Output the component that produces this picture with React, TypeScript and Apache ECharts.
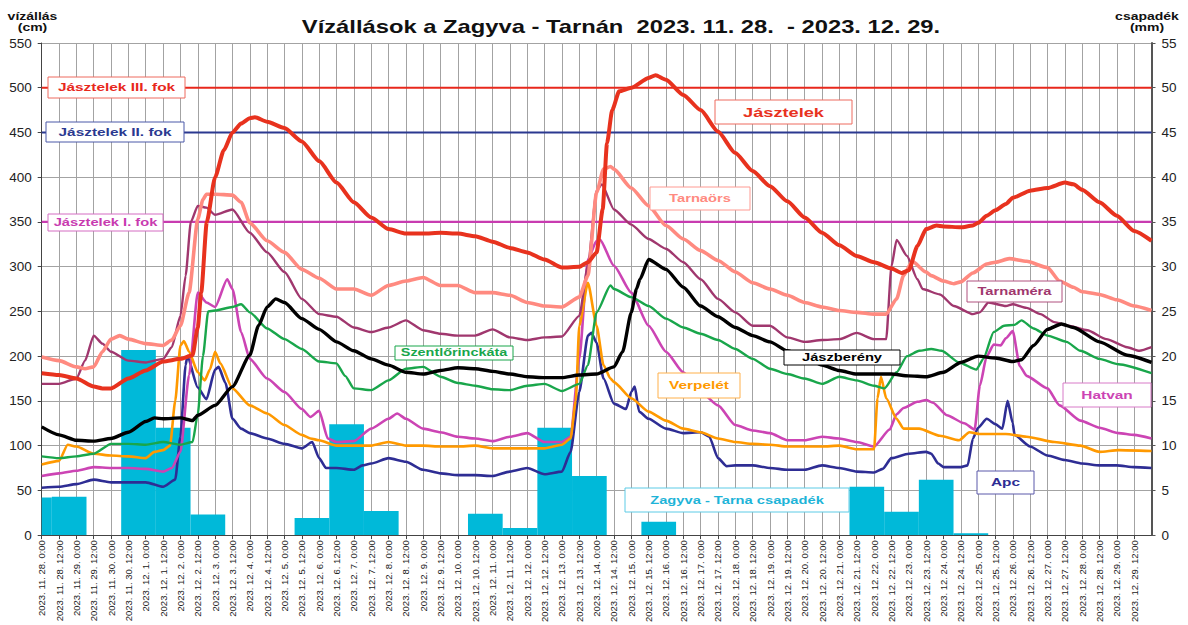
import React, { useEffect, useRef } from "react";
import * as echarts from "echarts";

// ---- tick labels (every 12 hours) ----
const DATES = [
  "2023. 11. 28.", "2023. 11. 29.", "2023. 11. 30.",
  "2023. 12. 1.", "2023. 12. 2.", "2023. 12. 3.", "2023. 12. 4.", "2023. 12. 5.",
  "2023. 12. 6.", "2023. 12. 7.", "2023. 12. 8.", "2023. 12. 9.", "2023. 12. 10.",
  "2023. 12. 11.", "2023. 12. 12.", "2023. 12. 13.", "2023. 12. 14.", "2023. 12. 15.",
  "2023. 12. 16.", "2023. 12. 17.", "2023. 12. 18.", "2023. 12. 19.", "2023. 12. 20.",
  "2023. 12. 21.", "2023. 12. 22.", "2023. 12. 23.", "2023. 12. 24.", "2023. 12. 25.",
  "2023. 12. 26.", "2023. 12. 27.", "2023. 12. 28.", "2023. 12. 29.",
];
const HOURS = ["0:00", "12:00"];

// ---- thresholds (cm) ----
const THRESHOLDS = [500, 450, 350];

// ---- daily precipitation (mm), measured 7:00 -> 7:00, first day = 11.27. ----
const PRECIP_HOUR = 7;
const precip = [
  4.2, 4.3, 0, 20.7, 12.0, 2.3, 0, 0, 1.9, 12.4, 2.7, 0, 0, 2.4, 0.8, 12.0, 6.6,
  0, 1.5, 0, 0, 0, 0, 0, 5.4, 2.6, 6.2, 0.2, 0, 0, 0, 0, 0,
];

// ---- water levels: [time in half-days since 2023.11.28 0:00, cm] ----
const jasztelek = [
  [0, 181], [1, 179], [2, 175], [3, 166], [3.5, 164], [4, 164], [5, 175], [6, 184], [7, 194], [8, 197],
  [8.7, 201], [9, 232], [9.2, 271], [9.52, 350], [10, 400], [10.5, 430], [11, 450], [11.5, 460], [12, 466],
  [12.3, 467], [13, 462], [14, 455], [15, 440], [16, 418], [17, 394], [18, 372], [19, 355], [20, 342],
  [21, 337], [22, 337], [23, 338], [24, 337], [25, 334], [26, 328], [27, 321], [28, 316], [29, 308],
  [30, 299], [31, 300], [31.5, 305], [32, 316], [32.35, 364], [32.6, 438], [32.9, 475], [33.3, 496],
  [34, 500], [35, 511], [35.4, 514], [36, 509], [37, 492], [38, 475], [39, 451], [40, 427], [41, 407],
  [42, 390], [43, 373], [44, 355], [45, 338], [46, 324], [47, 312], [48, 305], [49, 298], [49.6, 293],
  [50, 296], [50.5, 323], [51, 342], [51.6, 346], [52, 345], [53, 344], [53.7, 346], [54, 349],
  [54.5, 357], [55, 363], [55.6, 370], [56, 377], [57, 385], [58, 388], [59, 394], [59.5, 392],
  [60, 386], [61, 372], [62, 357], [63, 340], [64, 329],
];
const tarnaors = [
  [0, 199], [1, 195], [2, 188], [2.5, 186], [3, 188], [3.5, 205], [4, 219], [4.5, 223], [5, 219], [6, 214],
  [7, 212], [7.5, 218], [8, 234], [8.5, 271], [9, 353], [9.3, 375], [9.5, 381], [10, 381], [11, 380],
  [11.5, 372], [12, 349], [13, 329], [14, 316], [15, 297], [16, 287], [17, 275], [18, 275], [19, 268],
  [20, 279], [21, 284], [22, 288], [23, 279], [24, 279], [25, 271], [26, 271], [27, 268], [28, 260],
  [29, 256], [30, 255], [31, 266], [31.5, 290], [32, 383], [32.4, 409], [32.8, 412], [33, 409], [34, 388],
  [35, 368], [36, 346], [37, 331], [38, 318], [39, 307], [40, 294], [41, 282], [42, 275], [43, 268],
  [44, 260], [45, 255], [46, 251], [47, 249], [48, 247], [48.7, 247], [49.3, 264], [49.7, 290],
  [50.2, 306], [51, 294], [51.3, 290], [52, 284], [52.6, 281], [53, 283], [53.7, 293], [54.5, 303],
  [55, 305], [55.8, 309], [56.8, 306], [58, 299], [58.7, 284], [59.5, 277], [60, 272], [61, 269],
  [62, 263], [63, 256], [64, 251],
];
const tarnamera = [
  [0, 169], [1, 169], [2, 175], [2.5, 195], [3, 223], [3.5, 214], [4, 205], [5, 195], [6, 193], [7, 197],
  [7.5, 210], [8, 245], [8.3, 290], [8.6, 350], [9, 368], [9.5, 366], [10, 358], [11, 364], [12, 338],
  [13, 316], [14, 294], [15, 264], [16, 247], [17, 244], [18, 232], [19, 227], [20, 232], [21, 240],
  [22, 229], [23, 225], [24, 223], [25, 223], [26, 230], [27, 221], [28, 218], [29, 221], [30, 222],
  [31, 245], [31.5, 301], [32, 385], [32.3, 392], [33, 364], [34, 347], [35, 331], [36, 320], [37, 305],
  [38, 286], [39, 264], [40, 249], [41, 234], [42, 234], [43, 221], [44, 216], [45, 218], [46, 219],
  [47, 226], [48, 219], [48.7, 219], [49, 300], [49.3, 330], [49.9, 312], [50.5, 286], [50.8, 275],
  [51.8, 269], [52.6, 256], [53.7, 247], [54.1, 249], [54.6, 260], [55.6, 256], [56, 258], [56.8, 254],
  [57.6, 247], [58.4, 238], [59.2, 234], [60.3, 229], [61.4, 219], [62.6, 210], [63.3, 206], [64, 210],
];
const jaszbereny = [
  [0, 121], [1, 112], [2, 106], [3, 105], [4, 108], [5, 115], [6, 127], [6.5, 131], [7, 130], [8, 131],
  [8.7, 128], [9, 134], [10, 145], [11, 166], [12, 201], [12.5, 234], [13, 255], [13.5, 264], [14, 260],
  [15, 242], [16, 230], [17, 216], [18, 206], [19, 197], [20, 190], [21, 182], [22, 180], [23, 184],
  [24, 187], [25, 186], [26, 183], [27, 180], [28, 177], [29, 176], [30, 176], [31, 179], [32, 180],
  [33, 188], [33.5, 205], [34, 249], [34.3, 275], [34.5, 286], [35, 308], [36, 297], [37, 277],
  [38, 256], [39, 244], [40, 232], [41, 223], [42, 216], [43, 206], [44, 199], [45, 190], [46, 184],
  [47, 180], [48, 180], [49, 180], [50, 178], [51, 177], [52, 182], [53, 193], [54, 200], [55, 198],
  [56, 194], [56.5, 196], [57.2, 212], [58, 230], [58.8, 236], [59.5, 232], [61, 216], [62.6, 201],
  [64, 193],
];
const szentlorinckata = [
  [0, 88], [1, 86], [2, 88], [3, 91], [4, 102], [5, 102], [6, 101], [7, 104], [8, 101], [8.7, 104],
  [9, 135], [9.3, 200], [9.6, 250], [10, 251], [11, 255], [11.5, 258], [12, 249], [13, 231], [14, 219],
  [15, 208], [16, 194], [17, 192], [17.5, 178], [18, 164], [19, 162], [20, 173], [21, 186], [22, 188],
  [23, 177], [24, 170], [25, 167], [26, 163], [27, 162], [28, 167], [29, 169], [30, 161], [31, 169],
  [31.5, 190], [32, 249], [32.8, 279], [33, 275], [34, 266], [35, 256], [36, 242], [37, 232], [38, 225],
  [39, 218], [40, 208], [41, 197], [42, 186], [43, 180], [44, 175], [45, 169], [46, 177], [47, 173],
  [48, 167], [48.6, 164], [49.3, 182], [49.9, 200], [50.6, 206], [51.3, 208], [51.9, 206], [52.9, 193],
  [53.9, 185], [54.3, 197], [54.9, 227], [55.5, 234], [56.1, 235], [56.5, 240], [57.2, 231], [58, 223],
  [59.1, 216], [59.9, 206], [61, 197], [62.1, 191], [64, 181],
];
const verpelet = [
  [0, 79], [1, 83], [1.5, 101], [2, 99], [3, 91], [4, 89], [5, 88], [6, 86], [6.5, 93], [7, 95],
  [7.4, 100], [7.7, 150], [8, 212], [8.2, 217], [8.5, 205], [9, 182], [9.4, 173], [9.7, 185], [10, 205],
  [10.3, 192], [11, 164], [12, 145], [13, 136], [14, 123], [15, 112], [15.5, 108], [16, 106], [17, 100],
  [18, 100], [19, 100], [20, 104], [21, 100], [22, 100], [23, 99], [24, 99], [25, 100], [26, 97],
  [27, 97], [28, 97], [29, 97], [30, 101], [30.5, 108], [30.8, 150], [31, 234], [31.5, 282], [32, 234],
  [32.4, 190], [32.8, 175], [33, 171], [34, 153], [35, 138], [36, 128], [37, 119], [38, 115], [39, 108],
  [40, 104], [41, 102], [42, 101], [43, 99], [44, 99], [45, 99], [46, 100], [47, 96], [48, 96],
  [48.2, 153], [48.4, 177], [48.7, 153], [49.3, 130], [49.7, 119], [50.6, 119], [51.8, 111],
  [52.9, 106], [53.5, 115], [54.1, 113], [55.6, 113], [56.8, 110], [58.4, 104], [59.9, 100], [61, 93],
  [62.1, 95], [64, 94],
];
const hatvan = [
  [0, 66], [1, 69], [2, 72], [3, 76], [4, 75], [5, 75], [6, 74], [7, 71], [7.5, 75], [8, 93], [8.5, 179],
  [9, 271], [9.5, 260], [10, 255], [10.7, 286], [11, 275], [11.5, 227], [12, 197], [13, 175], [14, 160],
  [15, 141], [15.5, 132], [16, 139], [16.5, 108], [17, 104], [18, 105], [19, 119], [20, 130],
  [20.5, 136], [21, 130], [22, 119], [23, 115], [24, 110], [25, 108], [26, 105], [27, 110], [28, 114],
  [29, 104], [30, 104], [30.5, 110], [31, 197], [31.5, 308], [32, 329], [32.2, 330], [33, 301],
  [34, 271], [35, 234], [36, 205], [37, 182], [38, 160], [39, 145], [40, 123], [41, 117], [42, 114],
  [43, 106], [44, 106], [45, 110], [46, 108], [47, 104], [48, 99], [48.9, 118], [49.3, 135], [49.7, 142],
  [50.5, 149], [51, 151], [51.4, 148], [52.2, 134], [53.2, 125], [53.8, 118], [54.1, 167], [54.5, 200],
  [54.9, 213], [55.3, 212], [55.6, 220], [56, 228], [56.4, 189], [56.8, 178], [58, 164], [58.7, 145],
  [59.9, 128], [61, 120], [62.1, 114], [63, 112], [64, 108],
];
const apc = [
  [0, 53], [1, 54], [2, 57], [3, 62], [4, 59], [5, 59], [6, 59], [7, 54], [7.7, 62], [8, 110], [8.3, 190],
  [8.4, 200], [9, 165], [9.5, 152], [10, 185], [10.2, 188], [10.6, 170], [11, 130], [11.5, 119],
  [12, 114], [13, 108], [14, 102], [15, 97], [15.6, 104], [16, 86], [16.4, 75], [17, 75], [18, 73],
  [18.5, 78], [19, 80], [20, 86], [21, 82], [22, 73], [23, 69], [24, 67], [25, 67], [26, 66], [27, 71],
  [28, 75], [29, 68], [30, 71], [30.5, 93], [31, 160], [31.5, 223], [31.7, 226], [32, 215], [32.4, 175],
  [33, 147], [33.7, 141], [34, 160], [34.2, 166], [34.45, 138], [35, 130], [36, 119], [37, 114],
  [38, 115], [38.5, 110], [39, 86], [39.5, 77], [40, 78], [41, 78], [42, 75], [43, 73], [44, 73],
  [45, 78], [46, 75], [47, 71], [48, 70], [48.5, 74], [49, 86], [50, 91], [51, 93], [51.3, 91],
  [51.7, 80], [52, 76], [53, 76], [53.4, 78], [53.7, 108], [54, 120], [54.5, 130], [55, 124],
  [55.4, 119], [55.7, 150], [56, 125], [56.1, 112], [57, 99], [58, 89], [59, 84], [60, 80], [61, 78],
  [62, 78], [63, 76], [64, 75],
];

const FONT = "Arial, 'Liberation Sans', sans-serif";
const SX = 1.4;

type Box = { text: string; color: string; border: string; x: number; y: number; w: number; h: number; size: number };
const BOXES: Box[] = [
  { text: "Jásztelek III. fok", color: "#E8281C", border: "#EE6A5E", x: 48, y: 77, w: 137, h: 21, size: 11 },
  { text: "Jásztelek II. fok", color: "#2B3990", border: "#4A58A8", x: 46, y: 122, w: 138, h: 20, size: 11 },
  { text: "Jásztelek I. fok", color: "#C83BB0", border: "#D46CC2", x: 48, y: 214, w: 115, h: 17, size: 10.5 },
  { text: "Jásztelek", color: "#E8321E", border: "#EE6A5E", x: 715, y: 100, w: 137, h: 24, size: 13 },
  { text: "Tarnaörs", color: "#FF8A80", border: "#FF9A92", x: 650, y: 187, w: 100, h: 23, size: 10.5 },
  { text: "Szentlőrinckáta", color: "#19A64B", border: "#19A64B", x: 395, y: 346, w: 118, h: 14, size: 10.3 },
  { text: "Verpelét", color: "#FF9900", border: "#FFB04A", x: 658, y: 373, w: 82, h: 25, size: 11 },
  { text: "Jászberény", color: "#000000", border: "#000000", x: 784, y: 350, w: 116, h: 15, size: 10.5 },
  { text: "Tarnaméra", color: "#A0376E", border: "#B0507F", x: 967, y: 281, w: 95, h: 21, size: 10.5 },
  { text: "Hatvan", color: "#CC44B4", border: "#D87AC8", x: 1063, y: 383, w: 88, h: 24, size: 11 },
  { text: "Apc", color: "#2E2D94", border: "#5A58AA", x: 977, y: 471, w: 57, h: 23, size: 11 },
  { text: "Zagyva - Tarna csapadék", color: "#1EB4D8", border: "#5CCBE6", x: 625, y: 488, w: 224, h: 24, size: 10.5 },
];

function boxGraphic(b: Box) {
  return {
    type: "group",
    x: b.x + b.w / 2,
    y: b.y + b.h / 2,
    z: 100,
    children: [
      {
        type: "rect",
        shape: { x: -b.w / 2, y: -b.h / 2, width: b.w, height: b.h },
        style: { fill: "#ffffff", stroke: b.border, lineWidth: 1 },
        z: 100,
      },
      {
        type: "text",
        x: 0,
        y: 0,
        scaleX: SX,
        z: 101,
        style: {
          text: b.text,
          fill: b.color,
          font: `bold ${b.size}px ${FONT}`,
          textAlign: "center",
          textVerticalAlign: "middle",
          align: "center",
          verticalAlign: "middle",
        },
      },
    ],
  };
}

function plainText(text: string, x: number, y: number, size: number, scaleX: number) {
  return {
    type: "text",
    x,
    y,
    scaleX,
    z: 100,
    style: {
      text,
      fill: "#111",
      font: `bold ${size}px ${FONT}`,
      textAlign: "center",
      textVerticalAlign: "middle",
      align: "center",
      verticalAlign: "middle",
    },
  };
}

function lineSeries(name: string, data: number[][], color: string, width: number) {
  return {
    name,
    type: "line",
    data,
    showSymbol: false,
    symbol: "none",
    smooth: 0.2,
    smoothMonotone: "x",
    lineStyle: { color, width },
    itemStyle: { color },
    z: 3,
  };
}

export default function App() {
  const ref = useRef<HTMLDivElement>(null);
  useEffect(() => {
    document.body.style.margin = "0";
    const chart = echarts.init(ref.current!, null, { renderer: "svg" });
    const thrColors = ["#E8281C", "#2B3990", "#C83BB0"];
    const option: any = {
      animation: false,
      textStyle: { fontFamily: FONT },
      grid: { left: 41.7, right: 36.5, top: 43, bottom: 88, containLabel: false },
      xAxis: {
        type: "value",
        min: 0,
        max: DATES.length * 2,
        interval: 1,
        axisLine: { show: true, onZero: false, lineStyle: { color: "#444", width: 1 } },
        axisTick: { show: true, length: 4, lineStyle: { color: "#444" } },
        splitLine: { show: true, lineStyle: { color: "#a3a3a3", width: 1 } },
        axisLabel: {
          rotate: 90,
          margin: 5,
          fontSize: 9.5,
          color: "#222",
          fontFamily: FONT,
          showMaxLabel: false,
          formatter: (v: number) => {
            const i = Math.round(v);
            if (i >= DATES.length * 2) return "";
            return `${DATES[Math.floor(i / 2)]} ${HOURS[i % 2]}`;
          },
        },
      },
      yAxis: [
        {
          type: "value",
          min: 0,
          max: 550,
          interval: 50,
          axisLine: { show: true, lineStyle: { color: "#444", width: 1 } },
          axisTick: { show: true, length: 4, lineStyle: { color: "#444" } },
          splitLine: { show: true, lineStyle: { color: "#a3a3a3", width: 1 } },
          axisLabel: { fontSize: 13.5, color: "#222", margin: 10, fontFamily: FONT },
        },
        {
          type: "value",
          min: 0,
          max: 55,
          interval: 5,
          position: "right",
          axisLine: { show: true, lineStyle: { color: "#555", width: 2 } },
          axisTick: { show: true, length: 4, lineStyle: { color: "#555" } },
          splitLine: { show: false },
          axisLabel: { fontSize: 13.5, color: "#222", margin: 10, fontFamily: FONT },
        },
      ],
      graphic: [
        plainText("Vízállások a Zagyva - Tarnán  2023. 11. 28.  - 2023. 12. 29.", 621, 27, 19, 1.25),
        plainText("vízállás", 32.5, 17, 10, SX),
        plainText("(cm)", 32.5, 28, 10, SX),
        plainText("csapadék", 1147, 17, 10, SX),
        plainText("(mm)", 1147, 28, 10, SX),
        ...BOXES.map(boxGraphic),
      ],
      series: [
        {
          name: "Zagyva - Tarna csapadék",
          type: "custom",
          yAxisIndex: 1,
          data: precip.map((v, i) => [i - 1, v]),
          encode: { x: 0, y: 1 },
          z: 1,
          renderItem: (params: any, api: any) => {
            const d = api.value(0);
            const v = api.value(1);
            if (!(v > 0)) return null;
            const start = d * 2 + PRECIP_HOUR / 12;
            const p0 = api.coord([start, v]);
            const p1 = api.coord([start + 2, 0]);
            const cs = params.coordSys;
            const x0 = Math.max(p0[0], cs.x);
            const x1 = Math.min(p1[0], cs.x + cs.width);
            if (x1 <= x0) return null;
            return {
              type: "rect",
              shape: { x: x0, y: p0[1], width: x1 - x0, height: p1[1] - p0[1] },
              style: { fill: "#00B9D9" },
            };
          },
        },
        ...THRESHOLDS.map((t, i) => ({
          name: `threshold-${t}`,
          type: "line",
          data: [[0, t], [DATES.length * 2, t]],
          showSymbol: false,
          symbol: "none",
          lineStyle: { color: thrColors[i], width: 2.2 },
          z: 2,
        })),
        lineSeries("Apc", apc, "#2E2D94", 2.6),
        lineSeries("Hatvan", hatvan, "#CC44B4", 2.6),
        lineSeries("Verpelét", verpelet, "#FF9900", 2.6),
        lineSeries("Szentlőrinckáta", szentlorinckata, "#19A64B", 2.4),
        lineSeries("Tarnaméra", tarnamera, "#A0376E", 2.4),
        lineSeries("Tarnaörs", tarnaors, "#FF8A80", 3.6),
        lineSeries("Jászberény", jaszbereny, "#000000", 3.4),
        lineSeries("Jásztelek", jasztelek, "#E8321E", 4),
      ],
    };
    chart.setOption(option);
    return () => chart.dispose();
  }, []);
  return <div ref={ref} style={{ width: 1188, height: 625 }} />;
}
